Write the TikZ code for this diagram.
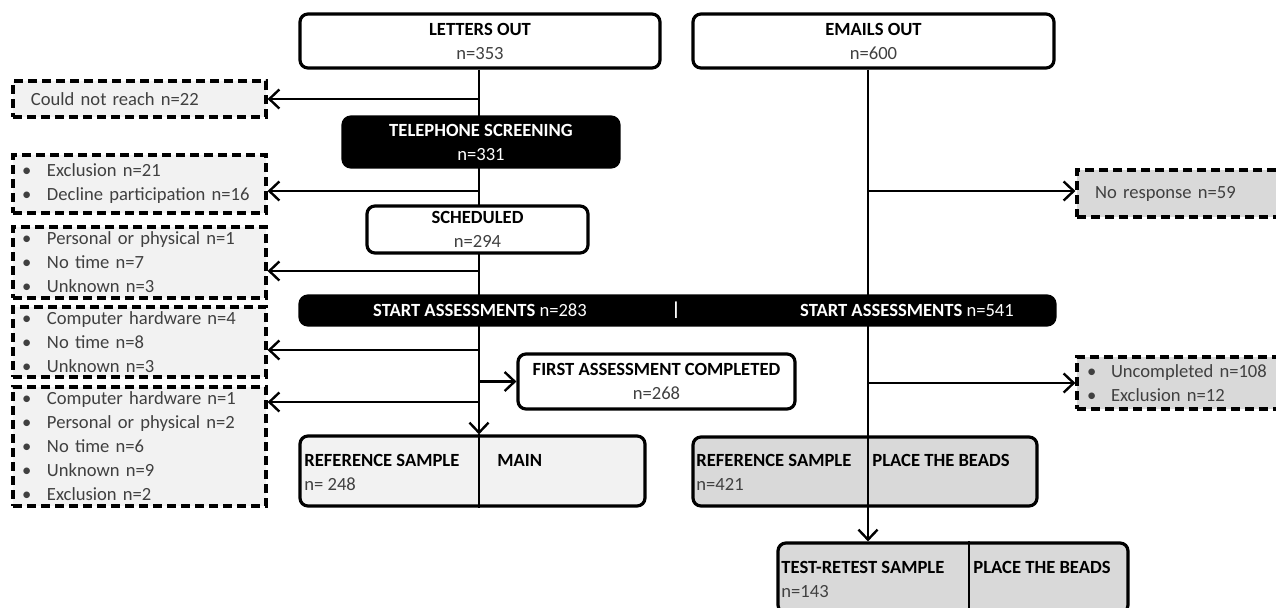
\documentclass[tikz,border=0pt]{standalone}
\usepackage{fontspec}
\setmainfont{Carlito}
\usetikzlibrary{arrows.meta,backgrounds}

\definecolor{lightfill}{RGB}{242,242,242}
\definecolor{midfill}{RGB}{217,217,217}
\definecolor{textgray}{RGB}{64,64,64}
\newcommand{\bul}{\makebox[12.5pt][l]{\textbullet}}
\newcommand{\bulr}{\makebox[12pt][l]{\textbullet}}

\tikzset{
  box/.style={draw, line width=1.6pt, rounded corners=4pt, fill=white, inner sep=0pt, align=center},
  darkbox/.style={box, fill=black, text=white},
  dropbox/.style={draw, line width=1.6pt, dash pattern=on 4.5pt off 2.5pt, fill=lightfill,
    inner ysep=0pt, align=left, text=textgray},
  tag/.style={inner sep=0pt, anchor=west, text=textgray},
  arr/.style={line width=1.2pt, -{Straight Barb[length=5pt,width=9.5pt,line width=1.2pt]}},
  divider/.style={line width=1.2pt},
}

\begin{document}
\begin{tikzpicture}[x=0.5pt, y=-0.5pt, font=\fontsize{9.3}{12}\selectfont]
    \path[use as bounding box, clip] (0,0) rectangle (1276,607);

    % spines
    \coordinate (ls) at (479,0);
    \coordinate (rs) at (868,0);

    % main column, letters
    \node[box, minimum width=180pt, minimum height=27pt] (letters) at (480,41) {\textbf{LETTERS OUT}\\\textcolor{textgray}{n=353}};
    \node[darkbox, minimum width=138pt, minimum height=25pt] (phone) at (481,142) {\textbf{TELEPHONE SCREENING}\\n=331};
    \node[box, minimum width=110.5pt, minimum height=23.5pt] (sched) at (477.5,229.5) {\textbf{SCHEDULED}\\\textcolor{textgray}{n=294}};
    \node[darkbox, minimum width=377.5pt, minimum height=14.5pt] (start) at (677.5,310.5) {};
    \node[inner sep=0pt, text=white] (startl) at (480,310.5) {\textbf{START ASSESSMENTS} n=283};
    \node[inner sep=0pt, text=white] (startsep) at (676,310.5) {\textbf{|}};
    \node[inner sep=0pt, text=white] (startr) at (907,310.5) {\textbf{START ASSESSMENTS} n=541};
    \node[box, minimum width=138.5pt, minimum height=27.5pt] (first) at (656.5,381.5) {\textbf{FIRST ASSESSMENT COMPLETED}\\\textcolor{textgray}{n=268}};

    % samples
    \node[box, fill=lightfill, minimum width=172.5pt, minimum height=35pt] (refmain) at (472.5,471) {};
    \node[tag, text=black] (refmaint) at (304,460) {\textbf{REFERENCE SAMPLE}};
    \node[tag] (refmainn) at (304,484) {n= 248};
    \node[tag, text=black] (refmaink) at (497,460) {\textbf{MAIN}};

    \node[box, fill=midfill, minimum width=172pt, minimum height=34.5pt] (refbeads) at (865,471.5) {};
    \node[tag, text=black] (refbeadst) at (696,460) {\textbf{REFERENCE SAMPLE}};
    \node[tag] (refbeadsn) at (696,484) {n=421};
    \node[tag, text=black] (refbeadsk) at (872,460) {\textbf{PLACE THE BEADS}};

    \node[box, fill=midfill, minimum width=175pt, minimum height=35pt] (retest) at (953,578) {};
    \node[tag, text=black] (retestt) at (781,567) {\textbf{TEST-RETEST SAMPLE}};
    \node[tag] (retestn) at (781,592) {n=143};
    \node[tag, text=black] (retestk) at (973,567) {\textbf{PLACE THE BEADS}};

    % emails
    \node[box, minimum width=180.5pt, minimum height=27pt] (emails) at (873.5,41) {\textbf{EMAILS OUT}\\\textcolor{textgray}{n=600}};

    % drop-outs, left
    \node[dropbox, inner xsep=9pt, text width=108.5pt, minimum height=18pt] (noreach) at (139.5,99) {Could not reach n=22};
    \node[dropbox, inner xsep=4.5pt, text width=117.5pt, minimum height=29pt] (drop2) at (139.5,184) {\bul Exclusion n=21\\\bul Decline participation n=16};
    \node[dropbox, inner xsep=4.5pt, text width=117.5pt, minimum height=35.5pt] (drop3) at (139.5,262.5) {\bul Personal or physical n=1\\\bul No time n=7\\\bul Unknown n=3};
    \node[dropbox, inner xsep=4.5pt, text width=117.5pt, minimum height=35pt] (drop4) at (139.5,342) {\bul Computer hardware n=4\\\bul No time n=8\\\bul Unknown n=3};
    \node[dropbox, inner xsep=4.5pt, text width=117.5pt, minimum height=59.5pt] (drop5) at (139.5,446.5) {\bul Computer hardware n=1\\\bul Personal or physical n=2\\\bul No time n=6\\\bul Unknown n=9\\\bul Exclusion n=2};

    % drop-outs, right
    \node[dropbox, fill=midfill, inner xsep=9pt, text width=93.5pt, minimum height=23.5pt] (noresp) at (1188.5,193.5) {No response n=59};
    \node[dropbox, fill=midfill, inner xsep=5pt, text width=101.5pt, minimum height=26pt] (uncomp) at (1188.5,383) {\bulr Uncompleted n=108\\\bulr Exclusion n=12};

    \begin{scope}[on background layer]
        \draw[arr] (ls |- letters.south) -- (ls |- refmain.north);
        \draw[arr] (rs |- emails.south) -- (rs |- retest.north);
    \end{scope}

    \draw[divider] (ls |- refmain.north) -- (ls |- refmain.south);
    \draw[divider] (rs |- refbeads.north) -- (rs |- refbeads.south);
    \draw[divider] (retestk.west |- retest.north) ++(-4,0) coordinate (rtd) -- (rtd |- retest.south);

    \coordinate (b2) at (479,191);
    \coordinate (b3) at (479,271);
    \coordinate (b4) at (479,350);
    \coordinate (b5) at (479,402);
    \coordinate (e1) at (868,191);

    \draw[arr] (ls |- noreach.east) -- (noreach.east);
    \draw[arr] (b2) -- (b2 -| drop2.east);
    \draw[arr] (b3) -- (b3 -| drop3.east);
    \draw[arr] (b4) -- (b4 -| drop4.east);
    \draw[arr] (b5) -- (b5 -| drop5.east);
    \draw[arr] (ls |- first.west) -- (first.west);

    \draw[arr] (e1) -- (e1 -| noresp.west);
    \draw[arr] (rs |- uncomp.west) -- (uncomp.west);

\end{tikzpicture}
\end{document}
